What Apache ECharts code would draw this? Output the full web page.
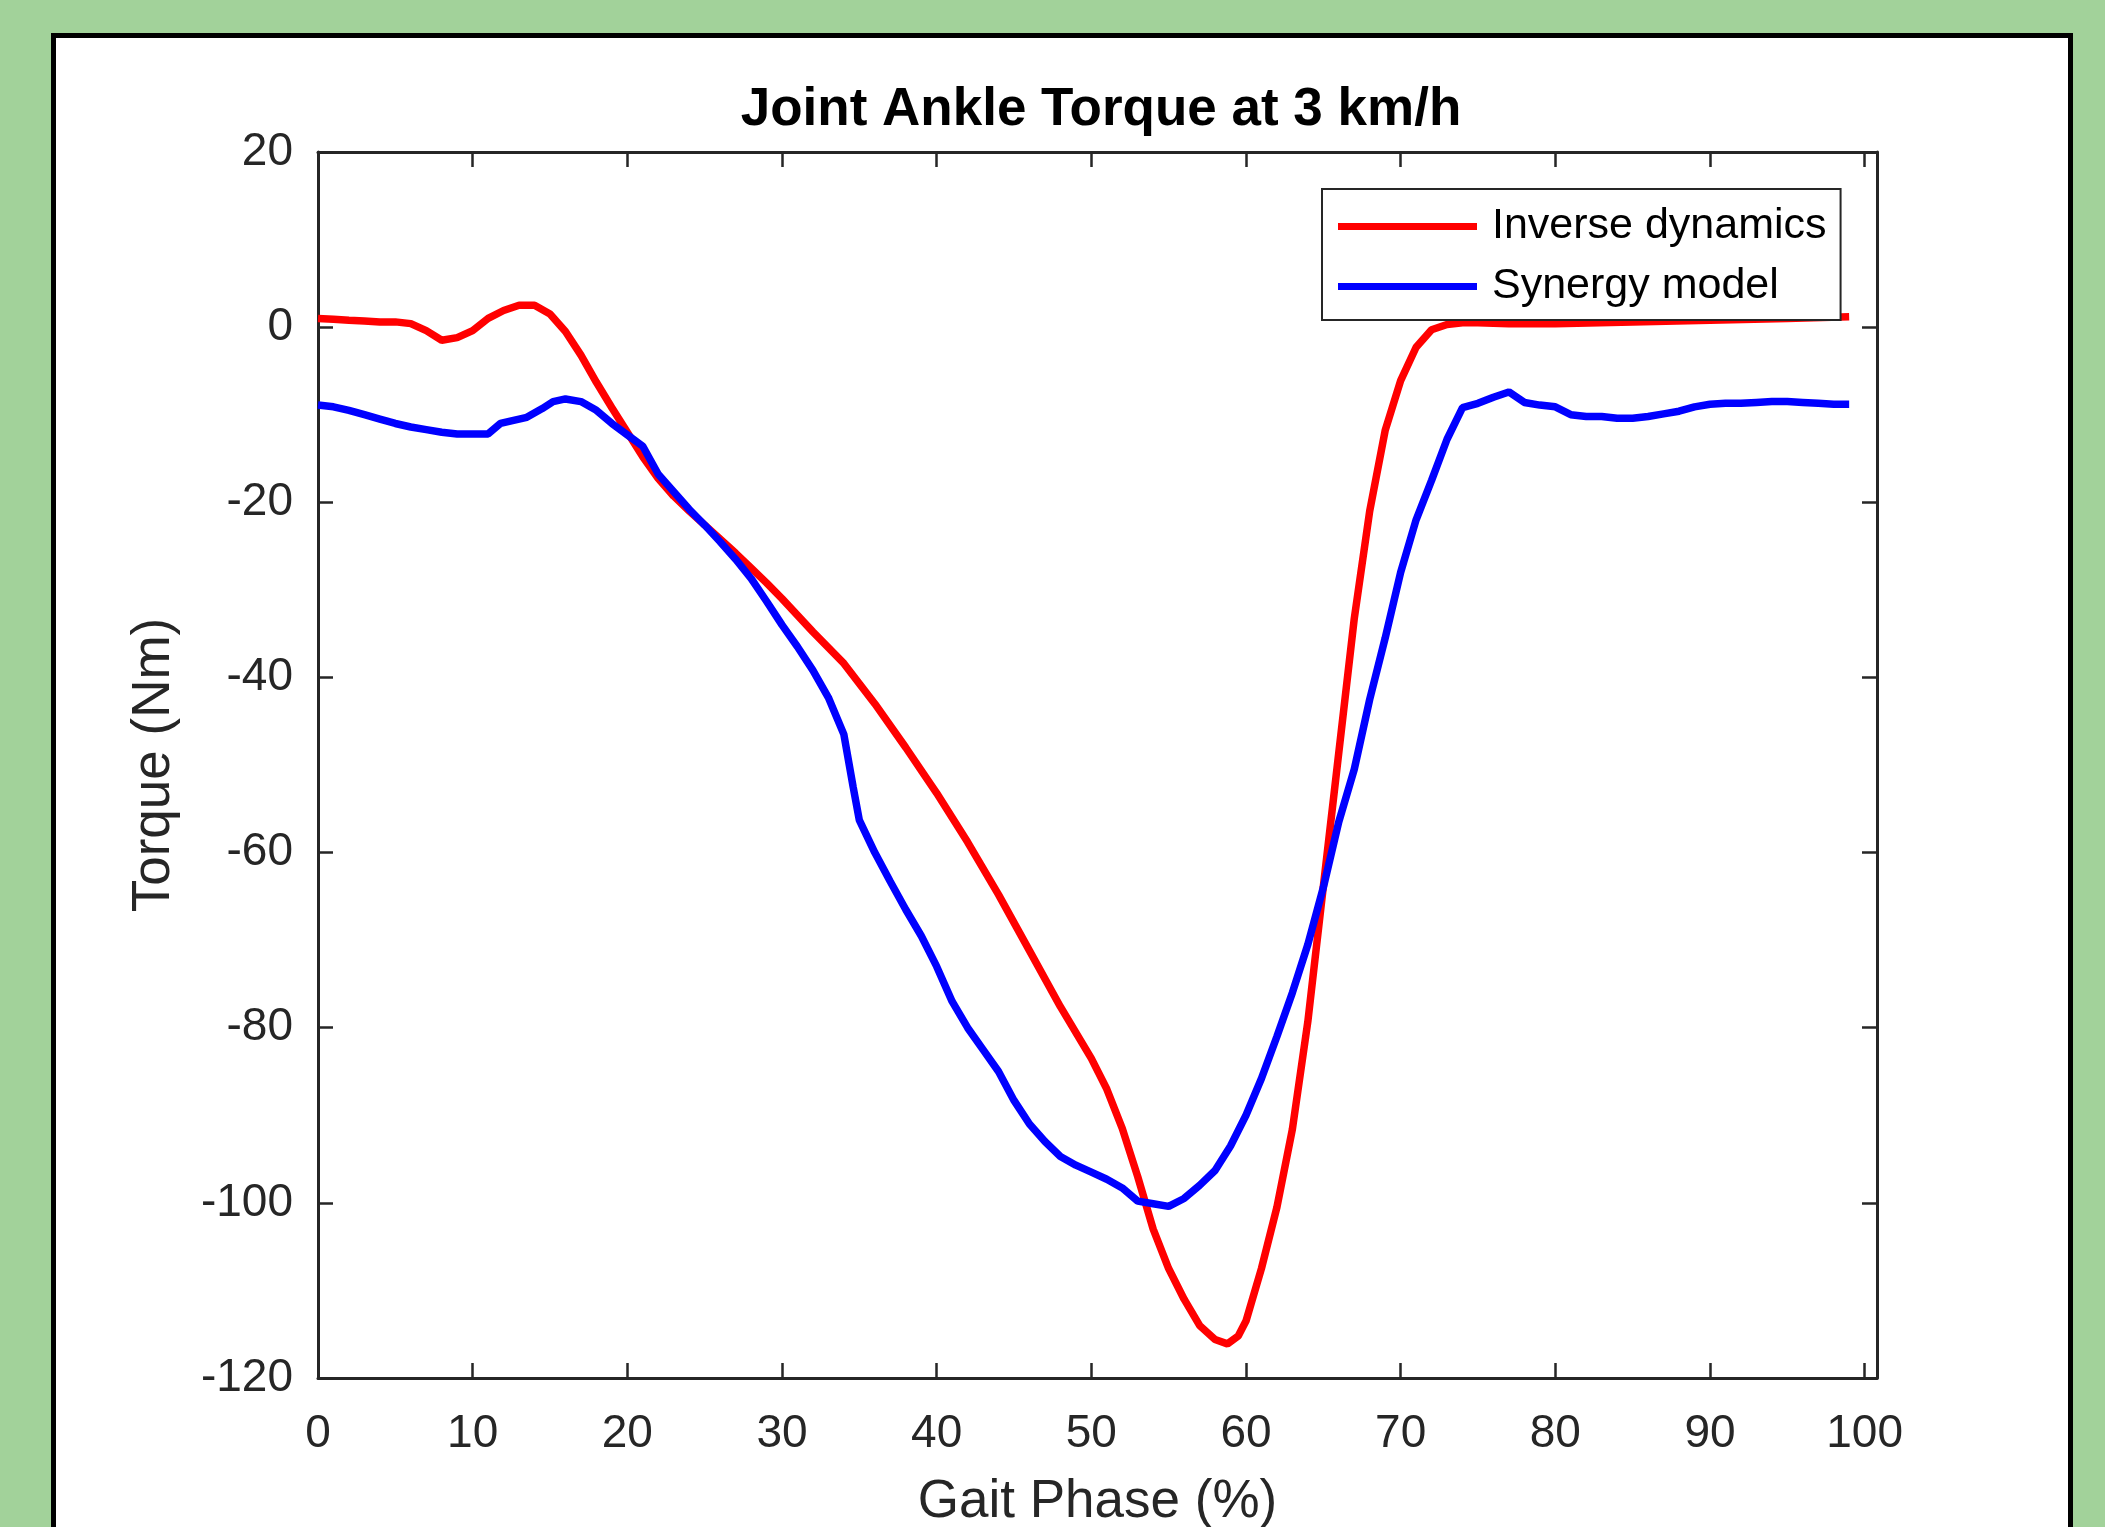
<!DOCTYPE html>
<html>
<head>
<meta charset="utf-8">
<title>Joint Ankle Torque at 3 km/h</title>
<script src="https://cdn.jsdelivr.net/npm/echarts@6/dist/echarts.min.js"></script>
<style>
    html, body { margin: 0; padding: 0; background: #a2d29a; overflow: hidden; }
    #frame {
        position: absolute; left: 51px; top: 33px; width: 2022px; height: 1600px;
        box-sizing: border-box; border: 5px solid #000; background: #fff;
    }
    #container { position: absolute; left: 0; top: 0; width: 2105px; height: 1527px; }
</style>
</head>
<body>
<div id="frame"></div>
<div id="container"></div>
<script>
// 步态相位 (%) 与力矩 (Nm)
var inverseX = [0, 1, 2, 3, 4, 5, 6, 7, 8, 9, 10, 11, 12, 13, 14, 15, 16, 17, 18, 19,
    20, 21, 22, 23, 24, 25, 26, 27, 28, 29, 30, 32, 34, 36, 38, 40, 42, 44, 46, 48,
    50, 51, 52, 53, 54, 55, 56, 57, 58, 58.8, 59.5, 60, 61, 62, 63, 64, 65, 66, 67, 68,
    69, 70, 71, 72, 73, 74, 75, 77, 80, 85, 90, 95, 99];
var inverseY = [1.0, 0.9, 0.8, 0.7, 0.6, 0.6, 0.4, -0.4, -1.5, -1.2, -0.4, 1.0, 1.9, 2.5, 2.5, 1.5, -0.5, -3.2, -6.3, -9.2,
    -12.0, -14.8, -17.3, -19.3, -21.0, -22.6, -24.2, -25.8, -27.5, -29.2, -31.0, -34.8, -38.4, -43.0, -48.0, -53.2, -58.8, -64.8, -71.2, -77.6,
    -83.5, -87.0, -91.5, -97.0, -103.0, -107.5, -111.0, -114.0, -115.6, -116.1, -115.2, -113.5, -107.5, -100.5, -91.6, -79.3, -63.9, -48.6, -33.3, -21.0,
    -11.8, -6.1, -2.3, -0.3, 0.3, 0.5, 0.5, 0.4, 0.4, 0.6, 0.8, 1.0, 1.2];

var synergyX = [0, 1, 2, 3, 4, 5, 6, 7, 8, 9, 10, 11, 11.8, 12.5, 13.5, 14.5, 15.2, 16, 17, 18,
    19, 20, 21, 22, 23, 24, 25, 26, 27, 28, 29, 30, 31, 32, 33, 34, 34.6, 35, 36, 37,
    38, 39, 40, 41, 42, 43, 44, 45, 46, 47, 48, 49, 50, 51, 52, 53, 54, 55, 56, 57,
    58, 59, 60, 61, 62, 63, 64, 65, 66, 67, 68, 69, 70, 71, 72, 73, 74, 75, 76, 77,
    78, 79, 80, 81, 82, 83, 84, 85, 86, 87, 88, 89, 90, 91, 92, 93, 94, 95, 96, 97, 98, 99];
var synergyY = [-8.9, -9.1, -9.5, -10.0, -10.5, -11.0, -11.4, -11.7, -12.0, -12.2, -12.2, -12.2, -11.0, -10.7, -10.3, -9.3, -8.5, -8.2, -8.5, -9.5,
    -11.0, -12.3, -13.6, -16.8, -18.8, -20.8, -22.6, -24.5, -26.5, -28.7, -31.3, -34.0, -36.5, -39.2, -42.3, -46.5, -52.5, -56.3, -60.0, -63.3,
    -66.5, -69.5, -73.0, -77.0, -80.0, -82.5, -85.0, -88.3, -91.0, -93.0, -94.7, -95.7, -96.5, -97.3, -98.3, -99.8, -100.1, -100.4, -99.5, -98.0,
    -96.3, -93.5, -90.0, -85.8, -81.0, -76.0, -70.5, -64.0, -56.5, -50.5, -42.5, -35.5, -28.0, -22.0, -17.5, -12.8, -9.2, -8.7, -8.0, -7.4,
    -8.6, -8.9, -9.1, -10.0, -10.2, -10.2, -10.4, -10.4, -10.2, -9.9, -9.6, -9.1, -8.8, -8.7, -8.7, -8.6, -8.5, -8.5, -8.6, -8.7, -8.8, -8.8];

var seriesNames = ['Inverse dynamics', 'Synergy model'];

function toPairs(xs, ys) {
    var out = [];
    for (var i = 0; i < xs.length; i++) {
        out.push([xs[i], ys[i]]);
    }
    return out;
}

var font = "'Liberation Sans', Arial, Helvetica, sans-serif";
var axisColor = '#262626';

// 坐标轴公共样式 (MATLAB 风格: 四周框线, 刻度朝内)
function boxAxis(extra) {
    var base = {
        type: 'value',
        axisLine: { show: true, onZero: false, lineStyle: { color: axisColor, width: 3 } },
        axisTick: { show: true, inside: true, length: 15, lineStyle: { color: axisColor, width: 2.5 } },
        splitLine: { show: false }
    };
    for (var k in extra) base[k] = extra[k];
    return base;
}

var dom = document.getElementById('container');
var myChart = echarts.init(dom, null, { renderer: 'canvas' });

var tickFmt = function (v) {
    return Math.abs(v - Math.round(v / 10) * 10) < 1e-6 ? String(Math.round(v)) : '';
};

var options = {
    backgroundColor: 'transparent',
    animation: false,
    title: {
        text: 'Joint Ankle Torque at 3 km/h',
        left: 1096,
        top: 79,
        textAlign: 'center',
        textStyle: { fontFamily: font, fontSize: 53, fontWeight: 'bold', color: '#000' }
    },
    legend: {
        data: seriesNames,
        orient: 'vertical',
        left: 1322,
        top: 189,
        padding: [16, 14, 12, 16],
        itemGap: 17,
        itemWidth: 139,
        itemHeight: 7,
        icon: 'rect',
        backgroundColor: '#fff',
        borderColor: axisColor,
        borderWidth: 2,
        textStyle: { fontFamily: font, fontSize: 43, color: '#000', padding: [0, 0, 0, 10] }
    },
    // 固定绘图区位置, 不让 v6 的 outerBounds 自动收缩
    grid: { left: 318, top: 152, right: 228, bottom: 149, containLabel: false, outerBoundsMode: 'none' },
    xAxis: [
        boxAxis({
            position: 'bottom', min: 0, max: 100.8, interval: 10,
            name: 'Gait Phase (%)', nameLocation: 'middle', nameGap: 98,
            nameTextStyle: { fontFamily: font, fontSize: 53, color: axisColor },
            axisLabel: { fontFamily: font, fontSize: 46, color: axisColor, margin: 33, formatter: tickFmt }
        }),
        boxAxis({
            position: 'top', min: 0, max: 100.8, interval: 10,
            axisLabel: { show: false }
        })
    ],
    yAxis: [
        boxAxis({
            position: 'left', min: -120, max: 20, interval: 20,
            name: 'Torque (Nm)', nameLocation: 'middle', nameGap: 137,
            nameTextStyle: { fontFamily: font, fontSize: 53, color: axisColor },
            axisLabel: { fontFamily: font, fontSize: 46, color: axisColor, margin: 25 }
        }),
        boxAxis({
            position: 'right', min: -120, max: 20, interval: 20,
            axisLabel: { show: false }
        })
    ],
    series: [
        {
            name: seriesNames[0],
            type: 'line',
            showSymbol: false,
            smooth: false,
            data: toPairs(inverseX, inverseY),
            itemStyle: { color: '#ff0000' },
            lineStyle: { color: '#ff0000', width: 7.5 }
        },
        {
            name: seriesNames[1],
            type: 'line',
            showSymbol: false,
            smooth: false,
            data: toPairs(synergyX, synergyY),
            itemStyle: { color: '#0000ff' },
            lineStyle: { color: '#0000ff', width: 7.5 }
        }
    ]
};

myChart.setOption(options, true);
</script>
</body>
</html>
